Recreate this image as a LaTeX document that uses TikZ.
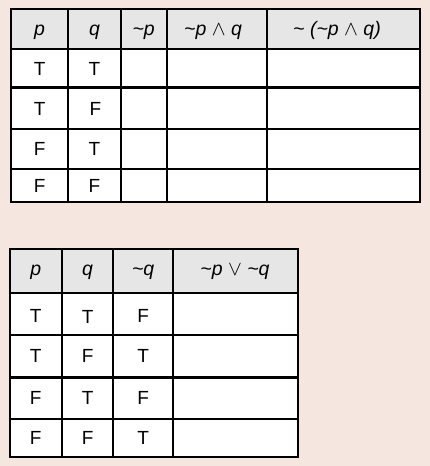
\documentclass[tikz,border=0pt]{standalone}
\usepackage{fontspec}
\setmainfont{Liberation Sans}
\newcommand{\tld}{\textasciitilde}
\newcommand{\myand}{{\upshape\fontsize{21pt}{21pt}\selectfont$\wedge$}}
\newcommand{\myor}{{\upshape\fontsize{21pt}{21pt}\selectfont$\vee$}}
\definecolor{bg}{RGB}{245,231,223}
\definecolor{hdr}{RGB}{230,230,230}
\tikzset{
  grid/.style={line width=2pt, black},
  thickrow/.style={line width=3pt, black},
  cell/.style={font=\fontsize{19pt}{19pt}\selectfont, inner sep=0pt, anchor=center},
  hcell/.style={font=\fontsize{19.5pt}{19.5pt}\selectfont\itshape, inner sep=0pt, anchor=base}
}
\begin{document}
\begin{tikzpicture}[x=1pt,y=-1pt]
\fill[bg] (0,0) rectangle (430,466);
\useasboundingbox (0,0) rectangle (430,466);
% ---------- top table ----------
\fill[hdr] (11,9.3) rectangle (419.5,49);
\fill[white] (11,49) rectangle (419.5,201.5);
\foreach \y in {49,128.7,168.7} \draw[grid] (11,\y) -- (419.5,\y);
\draw[thickrow] (11,87.3) -- (419.5,87.3);
\foreach \x in {68.3,120.7,166.7,266.7} \draw[grid] (\x,9.3) -- (\x,201.5);
\draw[grid] (11,9.3) rectangle (419.5,201.5);
% header
\node[hcell] (t-h1) at (39.6,35.5) {p};
\node[hcell] (t-h2) at (94.5,35.5) {q};
\node[hcell] (t-h3) at (143.7,35.5) {\tld p};
\node[hcell] (t-h4) at (213,35.5) {\tld p \myand{} q};
\node[hcell] (t-h5) at (337,35.5) {\tld\ (\tld p \myand{} q)};
% body
\node[cell] (t-11) at (39.6,69) {T};
\node[cell] (t-12) at (94.5,69) {T};
\node[cell] (t-21) at (39.6,108.5) {T};
\node[cell] (t-22) at (95.5,108.5) {F};
\node[cell] (t-31) at (39.6,149) {F};
\node[cell] (t-32) at (94.5,149) {T};
\node[cell] (t-41) at (39.6,185.5) {F};
\node[cell] (t-42) at (94.5,185.5) {F};
% ---------- bottom table ----------
\fill[hdr] (9.5,249) rectangle (298,293);
\fill[white] (9.5,293) rectangle (298,457);
\foreach \y in {293,335,419} \draw[grid] (9.5,\y) -- (298,\y);
\draw[thickrow] (9.5,377.3) -- (298,377.3);
\foreach \x in {62,113.3,173} \draw[grid] (\x,249) -- (\x,457);
\draw[grid] (9.5,249) rectangle (298,457);
% header
\node[hcell] (b-h1) at (35.8,275.5) {p};
\node[hcell] (b-h2) at (87.6,275.5) {q};
\node[hcell] (b-h3) at (143.2,275.5) {\tld q};
\node[hcell] (b-h4) at (235,275.5) {\tld p \myor{} \tld q};
% body
\node[cell] (b-11) at (35.8,315.5) {T};
\node[cell] (b-12) at (87.6,317) {T};
\node[cell] (b-13) at (143.2,316) {F};
\node[cell] (b-21) at (35.8,356) {T};
\node[cell] (b-22) at (87.6,356) {F};
\node[cell] (b-23) at (143.2,356) {T};
\node[cell] (b-31) at (35.8,398) {F};
\node[cell] (b-32) at (87.6,398) {T};
\node[cell] (b-33) at (143.2,398) {F};
\node[cell] (b-41) at (35.8,438) {F};
\node[cell] (b-42) at (87.6,438) {F};
\node[cell] (b-43) at (143.2,438) {T};
\end{tikzpicture}
\end{document}
